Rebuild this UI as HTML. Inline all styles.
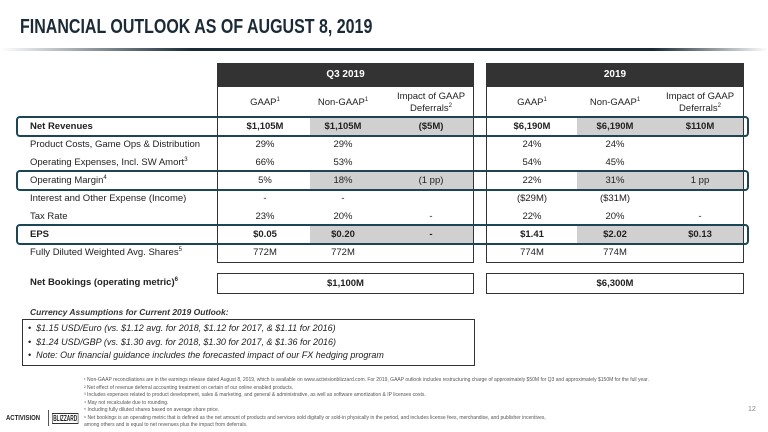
<!DOCTYPE html>
<html><head><meta charset="utf-8"><style>
body{margin:0;width:768px;height:432px;background:#fff;position:relative;overflow:hidden;font-family:"Liberation Sans",sans-serif;color:#222}
.a{position:absolute}
.t{white-space:nowrap}
.c{text-align:center;font-size:9.5px;white-space:nowrap}
.l{font-size:9.5px;white-space:nowrap;left:30px}
sup{font-size:6px;vertical-align:4px;line-height:0}
.b{font-weight:bold}
.g{background:#d0d0d0}
.box{border:2px solid #1d4654;border-radius:4px}
.fn{font-size:5px;color:#555;left:84px;white-space:nowrap}
</style></head><body>
<div class="a t b" style="left:20px;top:16px;font-size:20px;color:#1a2a36;transform:scaleX(0.8);transform-origin:left">FINANCIAL OUTLOOK AS OF AUGUST 8, 2019</div>
<div class="a" style="left:0;top:48px;width:768px;height:3px;background:linear-gradient(90deg,#fff 0%,#1a2a36 25%,#1a2a36 85%,#fff 100%)"></div>

<div class="a g" style="left:310px;top:118px;width:164px;height:17px"></div>
<div class="a g" style="left:310px;top:172px;width:164px;height:17px"></div>
<div class="a g" style="left:310px;top:226px;width:164px;height:17px"></div>
<div class="a g" style="left:577px;top:118px;width:167px;height:17px"></div>
<div class="a g" style="left:577px;top:172px;width:167px;height:17px"></div>
<div class="a g" style="left:577px;top:226px;width:167px;height:17px"></div>

<div class="a" style="left:217px;top:63px;width:255px;height:198px;border:1px solid #333"></div>
<div class="a" style="left:217px;top:63px;width:257px;height:24px;background:#333"></div>
<div class="a c b" style="left:217px;top:69px;width:257px;color:#fff;font-size:10px">Q3 2019</div>
<div class="a" style="left:486px;top:63px;width:256px;height:198px;border:1px solid #333"></div>
<div class="a" style="left:486px;top:63px;width:258px;height:24px;background:#333"></div>
<div class="a c b" style="left:486px;top:69px;width:258px;color:#fff;font-size:10px">2019</div>

<div class="a c" style="left:225px;top:97px;width:80px">GAAP<sup>1</sup></div>
<div class="a c" style="left:303px;top:97px;width:80px">Non-GAAP<sup>1</sup></div>
<div class="a c" style="left:391px;top:91px;width:80px;line-height:12px">Impact of GAAP<br>Deferrals<sup>2</sup></div>
<div class="a c" style="left:492px;top:97px;width:80px">GAAP<sup>1</sup></div>
<div class="a c" style="left:575px;top:97px;width:80px">Non-GAAP<sup>1</sup></div>
<div class="a c" style="left:658px;top:91px;width:84px;line-height:12px">Impact of GAAP<br>Deferrals<sup>2</sup></div>

<div class="a box" style="left:16px;top:116px;width:729px;height:17px"></div>
<div class="a box" style="left:16px;top:170px;width:729px;height:17px"></div>
<div class="a box" style="left:16px;top:224px;width:729px;height:17px"></div>

<div class="a l b" style="top:121px">Net Revenues</div>
<div class="a l" style="top:139px">Product Costs, Game Ops &amp; Distribution</div>
<div class="a l" style="top:157px">Operating Expenses, Incl. SW Amort<sup>3</sup></div>
<div class="a l" style="top:175px">Operating Margin<sup>4</sup></div>
<div class="a l" style="top:193px">Interest and Other Expense (Income)</div>
<div class="a l" style="top:211px">Tax Rate</div>
<div class="a l b" style="top:229px">EPS</div>
<div class="a l" style="top:247px">Fully Diluted Weighted Avg. Shares<sup>5</sup></div>

<div class="a c b" style="left:225px;top:121px;width:80px">$1,105M</div>
<div class="a c b" style="left:303px;top:121px;width:80px">$1,105M</div>
<div class="a c b" style="left:391px;top:121px;width:80px">($5M)</div>
<div class="a c b" style="left:492px;top:121px;width:80px">$6,190M</div>
<div class="a c b" style="left:575px;top:121px;width:80px">$6,190M</div>
<div class="a c b" style="left:658px;top:121px;width:84px">$110M</div>

<div class="a c" style="left:225px;top:139px;width:80px">29%</div>
<div class="a c" style="left:303px;top:139px;width:80px">29%</div>
<div class="a c" style="left:492px;top:139px;width:80px">24%</div>
<div class="a c" style="left:575px;top:139px;width:80px">24%</div>

<div class="a c" style="left:225px;top:157px;width:80px">66%</div>
<div class="a c" style="left:303px;top:157px;width:80px">53%</div>
<div class="a c" style="left:492px;top:157px;width:80px">54%</div>
<div class="a c" style="left:575px;top:157px;width:80px">45%</div>

<div class="a c" style="left:225px;top:175px;width:80px">5%</div>
<div class="a c" style="left:303px;top:175px;width:80px">18%</div>
<div class="a c" style="left:391px;top:175px;width:80px">(1 pp)</div>
<div class="a c" style="left:492px;top:175px;width:80px">22%</div>
<div class="a c" style="left:575px;top:175px;width:80px">31%</div>
<div class="a c" style="left:658px;top:175px;width:84px">1 pp</div>

<div class="a c" style="left:225px;top:193px;width:80px">-</div>
<div class="a c" style="left:303px;top:193px;width:80px">-</div>
<div class="a c" style="left:492px;top:193px;width:80px">($29M)</div>
<div class="a c" style="left:575px;top:193px;width:80px">($31M)</div>

<div class="a c" style="left:225px;top:211px;width:80px">23%</div>
<div class="a c" style="left:303px;top:211px;width:80px">20%</div>
<div class="a c" style="left:391px;top:211px;width:80px">-</div>
<div class="a c" style="left:492px;top:211px;width:80px">22%</div>
<div class="a c" style="left:575px;top:211px;width:80px">20%</div>
<div class="a c" style="left:658px;top:211px;width:84px">-</div>

<div class="a c b" style="left:225px;top:229px;width:80px">$0.05</div>
<div class="a c b" style="left:303px;top:229px;width:80px">$0.20</div>
<div class="a c b" style="left:391px;top:229px;width:80px">-</div>
<div class="a c b" style="left:492px;top:229px;width:80px">$1.41</div>
<div class="a c b" style="left:575px;top:229px;width:80px">$2.02</div>
<div class="a c b" style="left:658px;top:229px;width:84px">$0.13</div>

<div class="a c" style="left:225px;top:247px;width:80px">772M</div>
<div class="a c" style="left:303px;top:247px;width:80px">772M</div>
<div class="a c" style="left:492px;top:247px;width:80px">774M</div>
<div class="a c" style="left:575px;top:247px;width:80px">774M</div>

<div class="a l b" style="top:277px">Net Bookings (operating metric)<sup>6</sup></div>
<div class="a" style="left:217px;top:273px;width:255px;height:19px;border:1px solid #333"></div>
<div class="a c b" style="left:217px;top:278px;width:257px">$1,100M</div>
<div class="a" style="left:486px;top:273px;width:256px;height:19px;border:1px solid #333"></div>
<div class="a c b" style="left:486px;top:278px;width:258px">$6,300M</div>

<div class="a t b" style="left:30px;top:307px;font-size:8.5px;font-style:italic;color:#333">Currency Assumptions for Current 2019 Outlook:</div>
<div class="a" style="left:22px;top:319px;width:451px;height:45px;border:1px solid #333"></div>
<div class="a t" style="left:28px;top:322px;font-size:9px;font-style:italic;line-height:13.5px;color:#222">•&nbsp;&nbsp;$1.15 USD/Euro (vs. $1.12 avg. for 2018, $1.12 for 2017, &amp; $1.11 for 2016)<br>•&nbsp;&nbsp;$1.24 USD/GBP (vs. $1.30 avg. for 2018, $1.30 for 2017, &amp; $1.36 for 2016)<br>•&nbsp;&nbsp;Note: Our financial guidance includes the forecasted impact of our FX hedging program</div>

<div class="a fn" style="top:377px;line-height:7.5px">¹ Non-GAAP reconciliations are in the earnings release dated August 8, 2019, which is available on www.activisionblizzard.com. For 2019, GAAP outlook includes restructuring charge of approximately $50M for Q3 and approximately $150M for the full year.<br>² Net effect of revenue deferral accounting treatment on certain of our online enabled products.<br>³ Includes expenses related to product development, sales &amp; marketing, and general &amp; administrative, as well as software amortization &amp; IP licenses costs.<br>⁴ May not recalculate due to rounding.<br>⁵ Including fully diluted shares based on average share price.<br>⁶ Net bookings is an operating metric that is defined as the net amount of products and services sold digitally or sold-in physically in the period, and includes license fees, merchandise, and publisher incentives,<br>among others and is equal to net revenues plus the impact from deferrals.</div>
<div class="a t b" style="left:6px;top:415px;font-size:7px;color:#222;transform:scaleX(0.85);transform-origin:left">ACTIVISION</div>
<div class="a" style="left:48px;top:410px;width:1px;height:16px;background:#555"></div>
<div class="a t b" style="left:52px;top:413px;font-size:8px;color:#222;transform:scaleX(0.6);transform-origin:left;border:1px solid #333;padding:0 1px">BLIZZARD</div>
<div class="a t" style="left:748px;top:406px;font-size:7px;color:#888">12</div>
</body></html>
